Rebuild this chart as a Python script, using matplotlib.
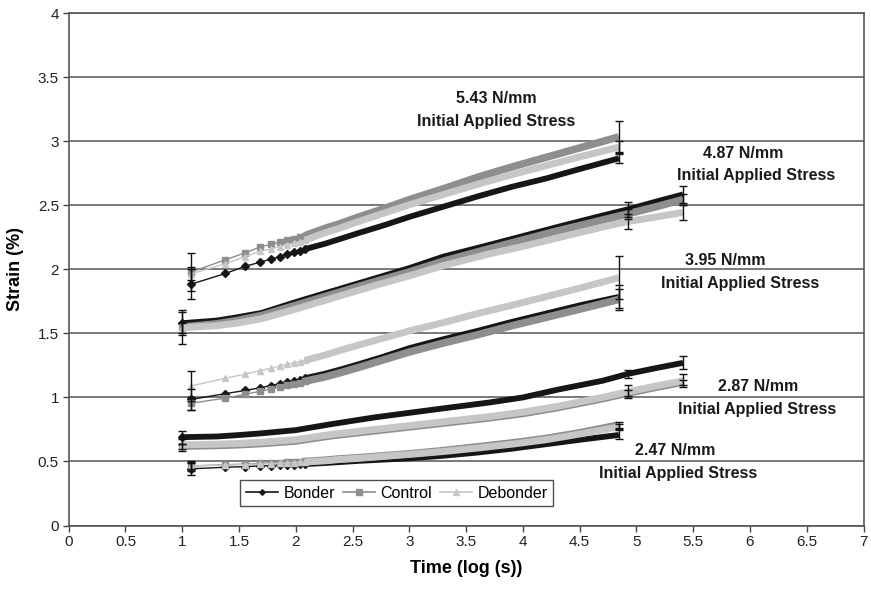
import numpy as np
import matplotlib
matplotlib.use("Agg")
import matplotlib.pyplot as plt
from matplotlib.lines import Line2D

plt.rcParams['font.family'] = ['Liberation Sans', 'DejaVu Sans']

# Sampling times (s): 12 s logging for 2.47 / 3.95 / 5.43 N/mm, 10 s logging for 2.87 / 4.87 N/mm
TIME_12S = [12, 24, 36, 48, 60, 72, 84, 96, 108, 120, 180, 240, 360, 600,
            1000, 2000, 4000, 8000, 16000, 32000, 70000]
TIME_10S = [10, 20, 30, 50, 100, 200, 500, 1000, 2000, 5000, 10000, 20000,
            50000, 85000, 150000, 257000]

GROUPS = ["Bonder", "Control", "Debonder"]

# Strain (%) – 2.47 N/mm
S247_BONDER = [0.443, 0.455, 0.46, 0.465, 0.468, 0.47, 0.473, 0.476, 0.478, 0.48, 0.488,
               0.495, 0.505, 0.515, 0.525, 0.545, 0.57, 0.6, 0.635, 0.67, 0.707]
S247_CONTROL = [0.465, 0.475, 0.48, 0.485, 0.488, 0.49, 0.493, 0.496, 0.498, 0.50, 0.51,
                0.52, 0.53, 0.545, 0.56, 0.585, 0.615, 0.645, 0.68, 0.725, 0.785]
S247_DEBONDER = [0.465, 0.472, 0.476, 0.48, 0.483, 0.486, 0.489, 0.492, 0.494, 0.496, 0.505,
                 0.515, 0.525, 0.54, 0.555, 0.578, 0.605, 0.635, 0.67, 0.715, 0.77]

# Strain (%) – 2.87 N/mm
S287_BONDER = [0.69, 0.695, 0.705, 0.72, 0.745, 0.79, 0.845, 0.88, 0.915, 0.96, 1.0,
               1.06, 1.13, 1.185, 1.23, 1.27]
S287_CONTROL = [0.62, 0.625, 0.63, 0.64, 0.66, 0.70, 0.74, 0.77, 0.80, 0.84, 0.875,
                0.92, 0.99, 1.035, 1.08, 1.12]
S287_DEBONDER = [0.63, 0.635, 0.64, 0.65, 0.67, 0.71, 0.75, 0.78, 0.81, 0.85, 0.885,
                 0.93, 1.0, 1.045, 1.09, 1.13]

# Strain (%) – 3.95 N/mm
S395_BONDER = [0.985, 1.03, 1.055, 1.075, 1.092, 1.108, 1.12, 1.13, 1.14, 1.15, 1.185,
               1.215, 1.26, 1.32, 1.385, 1.455, 1.52, 1.59, 1.655, 1.72, 1.785]
S395_CONTROL = [0.955, 0.995, 1.025, 1.047, 1.065, 1.082, 1.095, 1.106, 1.116, 1.126, 1.16,
                1.19, 1.235, 1.295, 1.355, 1.425, 1.49, 1.56, 1.625, 1.69, 1.765]
S395_DEBONDER = [1.09, 1.15, 1.183, 1.208, 1.228, 1.245, 1.258, 1.27, 1.28, 1.29, 1.33,
                 1.365, 1.41, 1.465, 1.52, 1.585, 1.655, 1.72, 1.787, 1.855, 1.935]

# Strain (%) – 4.87 N/mm
S487_BONDER = [1.58, 1.60, 1.625, 1.66, 1.745, 1.825, 1.93, 2.01, 2.10, 2.19, 2.26,
               2.33, 2.42, 2.47, 2.53, 2.585]
S487_CONTROL = [1.55, 1.575, 1.60, 1.64, 1.72, 1.80, 1.905, 1.98, 2.065, 2.16, 2.23,
                2.30, 2.385, 2.435, 2.49, 2.545]
S487_DEBONDER = [1.545, 1.56, 1.58, 1.615, 1.69, 1.77, 1.875, 1.95, 2.03, 2.12, 2.18,
                 2.245, 2.33, 2.375, 2.41, 2.445]

# Strain (%) – 5.43 N/mm
S543_BONDER = [1.885, 1.968, 2.025, 2.055, 2.08, 2.10, 2.118, 2.133, 2.146, 2.158, 2.20,
               2.235, 2.285, 2.345, 2.41, 2.49, 2.57, 2.645, 2.71, 2.785, 2.867]
S543_CONTROL = [1.98, 2.075, 2.13, 2.175, 2.195, 2.213, 2.228, 2.24, 2.252, 2.263, 2.32,
                2.355, 2.41, 2.475, 2.545, 2.63, 2.72, 2.80, 2.875, 2.95, 3.035]
S543_DEBONDER = [1.965, 2.045, 2.10, 2.14, 2.16, 2.178, 2.193, 2.205, 2.217, 2.228, 2.285,
                 2.32, 2.375, 2.44, 2.505, 2.585, 2.665, 2.74, 2.81, 2.88, 2.955]

# Standard deviations: first/last sample (12 s runs), first/85000 s/last sample (10 s runs)
E247_BONDER, E247_CONTROL, E247_DEBONDER = [0.05, 0.035], [0.04, 0.02], [0.02, 0.02]
E287_BONDER, E287_CONTROL, E287_DEBONDER = [0.05, 0.03, 0.05], [0.02, 0.02, 0.02], [0.045, 0.05, 0.05]
E395_BONDER, E395_CONTROL, E395_DEBONDER = [0.08, 0.09], [0.05, 0.08], [0.12, 0.17]
E487_BONDER, E487_CONTROL, E487_DEBONDER = [0.09, 0.06, 0.07], [0.13, 0.04, 0.04], [0.04, 0.06, 0.06]
E543_BONDER, E543_CONTROL, E543_DEBONDER = [0.12, 0.04], [0.15, 0.12], [0.05, 0.05]

LOAD_LABELS = ["2.47 N/mm", "2.87 N/mm", "3.95 N/mm", "4.87 N/mm", "5.43 N/mm"]
SUBTITLE = "Initial Applied Stress"

X_TICKS = [0, 0.5, 1, 1.5, 2, 2.5, 3, 3.5, 4, 4.5, 5, 5.5, 6, 6.5, 7]
Y_TICKS = [0, 0.5, 1, 1.5, 2, 2.5, 3, 3.5, 4]

# ---- figure ---------------------------------------------------------------
STYLE = {
    "Bonder":   dict(color="#161616", marker="D", ms=3.6, band=4.2),
    "Control":  dict(color="#8e8e8e", marker="s", ms=4.6, band=5.4),
    "Debonder": dict(color="#c6c6c6", marker="^", ms=4.8, band=5.0),
}

runs = [
    (TIME_12S, [S247_BONDER, S247_CONTROL, S247_DEBONDER], [E247_BONDER, E247_CONTROL, E247_DEBONDER], [0, -1]),
    (TIME_10S, [S287_BONDER, S287_CONTROL, S287_DEBONDER], [E287_BONDER, E287_CONTROL, E287_DEBONDER], [0, 13, -1]),
    (TIME_12S, [S395_BONDER, S395_CONTROL, S395_DEBONDER], [E395_BONDER, E395_CONTROL, E395_DEBONDER], [0, -1]),
    (TIME_10S, [S487_BONDER, S487_CONTROL, S487_DEBONDER], [E487_BONDER, E487_CONTROL, E487_DEBONDER], [0, 13, -1]),
    (TIME_12S, [S543_BONDER, S543_CONTROL, S543_DEBONDER], [E543_BONDER, E543_CONTROL, E543_DEBONDER], [0, -1]),
]

fig = plt.figure(figsize=(8.71, 5.90), dpi=100)
ax = fig.add_axes([0.0789, 0.1093, 0.9125, 0.8682])

for times, strains, errs, err_idx in runs:
    logt = np.log10(np.asarray(times, dtype=float))
    # individual markers where samples are still resolvable, a dense band after that
    band_from = 9 if times is TIME_12S else 0
    for grp, y, e in zip(GROUPS, strains, errs):
        st = STYLE[grp]
        y = np.asarray(y)
        ax.plot(logt, y, color=st["color"], lw=1.0, marker=st["marker"],
                ms=st["ms"], mec=st["color"], mfc=st["color"],
                markevery=list(range(0, band_from + 1)), zorder=3)
        ax.plot(logt[band_from:], y[band_from:], color=st["color"],
                lw=st["band"], solid_capstyle="butt", zorder=3)
        ax.errorbar(logt[err_idx], y[err_idx], yerr=np.asarray(e), fmt="none",
                    ecolor="#111111", elinewidth=1.0, capsize=2.8, capthick=1.0, zorder=4)

ax.set_xlim(0, 7)
ax.set_ylim(0, 4)
ax.set_xticks(X_TICKS)
ax.set_xticklabels([f"{t:g}" for t in X_TICKS])
ax.set_yticks(Y_TICKS)
ax.set_yticklabels([f"{t:g}" for t in Y_TICKS])
ax.tick_params(axis="both", direction="out", length=4, width=1.0, color="#444444",
               labelsize=11, labelcolor="#222222", pad=3)
ax.yaxis.grid(True, color="#555555", lw=1.1)
ax.set_axisbelow(True)
for sp in ax.spines.values():
    sp.set_color("#555555")
    sp.set_linewidth(1.2)

ax.set_xlabel("Time (log (s))", fontsize=13, fontweight="bold", labelpad=8)
ax.set_ylabel("Strain (%)", fontsize=13, fontweight="bold", labelpad=10)

# load annotations (two lines each)
label_pos = [
    ((5.337, 0.597), (5.364, 0.418)),
    ((6.068, 1.097), (6.06, 0.918)),
    ((5.786, 2.081), (5.909, 1.902)),
    ((5.936, 2.917), (6.05, 2.745)),
    ((3.77, 3.346), (3.762, 3.167)),
]
for lab, (p1, p2) in zip(LOAD_LABELS, label_pos):
    ax.text(*p1, lab, ha="center", va="center_baseline", fontsize=11.5,
            fontweight="bold", color="#1a1a1a", zorder=5)
    ax.text(*p2, SUBTITLE, ha="center", va="center_baseline", fontsize=11.5,
            fontweight="bold", color="#1a1a1a", zorder=5)

handles = [Line2D([], [], color=STYLE[g]["color"], lw=1.2, marker=STYLE[g]["marker"],
                  ms=STYLE[g]["ms"] - 0.8) for g in GROUPS]
leg = ax.legend(handles, GROUPS, loc="center", bbox_to_anchor=(0.413, 0.063), ncol=3,
                fontsize=11.5, frameon=True, fancybox=False, edgecolor="#222222",
                handlelength=2.0, handletextpad=0.35, columnspacing=0.5,
                borderpad=0.35, borderaxespad=0)
leg.get_frame().set_linewidth(1.0)

fig.savefig("out.png", dpi=100)
